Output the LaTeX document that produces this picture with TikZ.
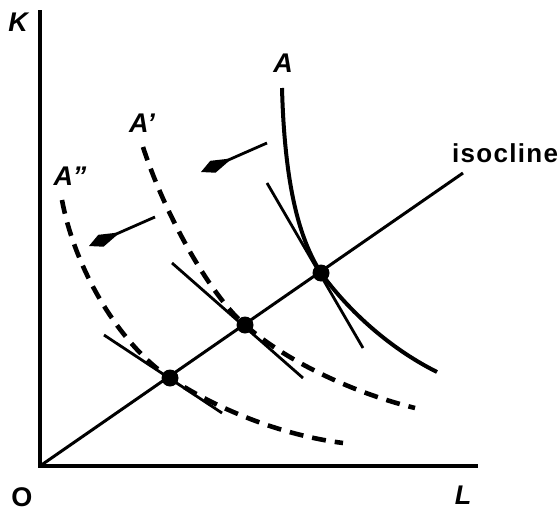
\documentclass[tikz,border=0pt]{standalone}
\usepackage{fontspec}
\setmainfont{Liberation Sans}
\usetikzlibrary{arrows.meta,calc}
\tikzset{
  fig/.style={x=1pt,y=-1pt},
  axis/.style={line width=4.5pt},
  isoq/.style={line width=4pt},
  isoqd/.style={line width=4.6pt,dash pattern=on 14pt off 9pt},
  tang/.style={line width=2.8pt},
  iso/.style={line width=3pt},
  ln/.style={-{Kite[length=34pt,width=13pt,inset=21pt]},line width=2.8pt},
  dot/.style={circle,fill,inner sep=0pt,minimum size=17pt},
  lbl/.style={font=\bfseries\itshape\fontsize{27}{29}\selectfont,inner sep=1pt},
  lblup/.style={font=\bfseries\fontsize{27}{29}\selectfont,inner sep=1pt},
}

\begin{document}
\begin{tikzpicture}[fig]
\useasboundingbox (0,0) rectangle (560,514);

% axes
\coordinate (O) at (40,466);
\coordinate (ytop) at (40,10);
\coordinate (xend) at (478,466);
\draw[axis] (ytop) -- (O) -- (xend);
\node[lbl] (lK) at (18,22) {K};
\node[lblup] (lO) at (22,497) {O};
\node[lbl] (lL) at (463,495) {L};

% isocline
\coordinate (isoend) at (463,173);
\draw[iso] (O) -- (isoend);
\node[lblup,anchor=west,font=\bfseries\addfontfeatures{LetterSpace=5}\fontsize{26}{28}\selectfont] (liso) at (451,153) {isocline};

\node[dot] (q2) at (170,378) {};
\node[dot] (q1) at (245,325) {};
\node[dot] (q0) at (321,273) {};

% tangents
\coordinate (t0a) at (267,183);
\coordinate (t0b) at (363,348);
\coordinate (t1a) at (172,263);
\coordinate (t1b) at (303,378);
\coordinate (t2a) at (104,335);
\coordinate (t2b) at (222,413);
\draw[tang] (t0a) -- (t0b);
\draw[tang] (t1a) -- (t1b);
\draw[tang] (t2a) -- (t2b);

% isoquants
\coordinate (a0) at (282,88);
\coordinate (e0) at (437,372);
\draw[isoq] (a0) .. controls (285,200) and (304,246) .. (q0.center)
  .. controls (345,306) and (385,346) .. (e0);
\node[lbl] (lA) at (283,63) {A};

\coordinate (a1) at (143,147);
\coordinate (e1) at (415,408);
\draw[isoqd] (a1) .. controls (165,215) and (210,295) .. (q1.center)
  .. controls (285,360) and (350,392) .. (e1);
\node[lbl] (lA1) at (142,123) {A'};

\coordinate (a2) at (62,200);
\coordinate (e2) at (343,443);
\draw[isoqd] (a2) .. controls (75,270) and (120,345) .. (q2.center)
  .. controls (215,408) and (280,435) .. (e2);
\node[lbl] (lA2) at (70,176) {A''};

% shift arrows
\coordinate (s1) at (267,143);
\coordinate (s1e) at (201,172);
\coordinate (s2) at (155,217);
\coordinate (s2e) at (89,246);
\draw[ln] (s1) -- (s1e);
\draw[ln] (s2) -- (s2e);

\end{tikzpicture}
\end{document}
